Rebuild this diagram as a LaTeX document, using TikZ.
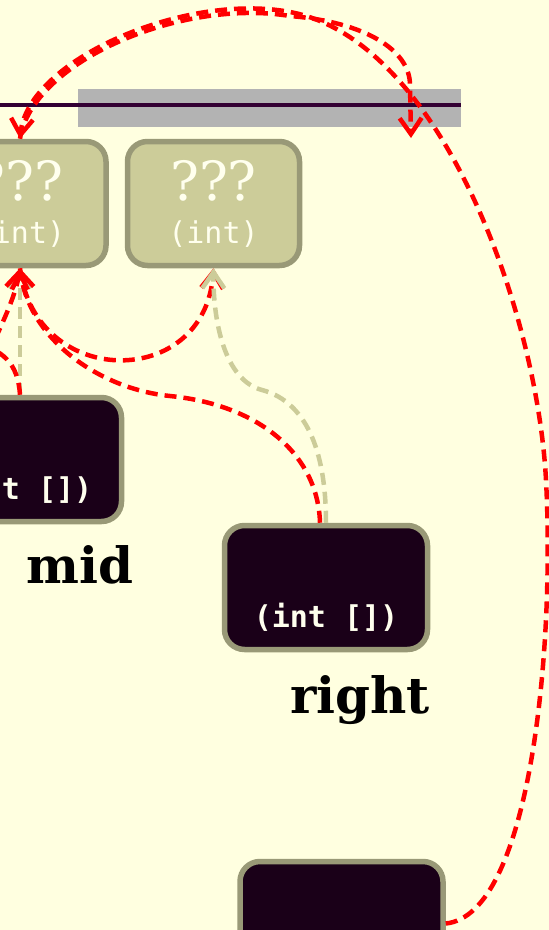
\documentclass[tikz,border=0pt]{standalone}
\usepackage{fontspec}
\setmainfont{DejaVu Serif}
\setmonofont{DejaVu Sans Mono}
\usetikzlibrary{arrows.meta,positioning}

\definecolor{paper}{HTML}{FFFFE0}
\definecolor{cellfill}{HTML}{CCCC99}
\definecolor{celledge}{HTML}{999977}
\definecolor{arrfill}{HTML}{1A0018}
\definecolor{valtext}{HTML}{FFFFEE}
\definecolor{barcol}{HTML}{B3B3B3}
\definecolor{rulecol}{HTML}{330033}

\begin{document}
\begin{tikzpicture}[
    x=1pt, y=-1pt,
    cell/.style={
        draw=celledge,
        fill=cellfill,
        line width=5.5pt,
        rounded corners=20pt,
        align=center,
        text=valtext,
        font=\fontsize{30}{43}\selectfont\ttfamily,
        inner sep=0pt,
        minimum width=172pt,
        minimum height=124pt
    },
    arrcell/.style={cell, fill=arrfill, minimum width=203pt, font=\fontsize{30}{43}\selectfont\ttfamily\bfseries},
    varname/.style={font=\fontsize{50}{60}\selectfont\bfseries, anchor=base},
    pointer/.style={-{Straight Barb[length=16pt, width=22pt]}, line width=4.5pt, draw=red, dash pattern=on 12pt off 7pt},
    typelink/.style={pointer, draw=cellfill}
]

\useasboundingbox (0,0) rectangle (549,930);
\fill[paper] (0,0) rectangle (549,930);
\clip (0,0) rectangle (549,930);

\fill[barcol] (78,89) rectangle (461,127);
\draw[rulecol, line width=4pt] (-20,105) -- (461,105);
\coordinate (slot) at (411,138);
\coordinate (offin) at (-30,390);
\coordinate (offout) at (-40,340);

\node[cell] (val0) at (20,203.5) {{\rmfamily\fontsize{54}{43}\selectfont ???}\\(int)};
\node[cell] (val1) at (213.5,203.5) {{\rmfamily\fontsize{54}{43}\selectfont ???}\\(int)};

\node[arrcell] (midarr) at (20,459.5) {{\rmfamily\fontsize{54}{43}\selectfont\vphantom{???}}\\(int [])};
\node[arrcell] (rightarr) at (326,587.5) {{\rmfamily\fontsize{54}{43}\selectfont\vphantom{???}}\\(int [])};
\node[arrcell] (botarr) at (341.5,923.5) {};

\node[varname] (midname) at (80,583) {mid};
\node[varname] (rightname) at (360,713) {right};

\draw[typelink] (midarr.north) -- (val0.south);
\draw[pointer] (midarr.north) .. controls (18,365) and (5,348) .. (offout);
\draw[pointer] (offin) .. controls (-5,340) and (15,300) .. (val0.south);
\draw[pointer] (val0.south) .. controls (35,390) and (205,390) .. (val1.south);
\draw[pointer] ([xshift=-6pt]rightarr.north) .. controls (318,455) and (260,405) .. (170,396)
    .. controls (100,389) and (30,340) .. (val0.south);
\draw[typelink] (rightarr.north) .. controls (326,440) and (300,400) .. (262,390)
    .. controls (224,380) and (213,320) .. (val1.south);
\draw[pointer] (val0.north) .. controls (32,62) and (180,-2) .. (290,16)
    .. controls (365,22) and (410,50) .. (410,85) -- (slot);
\draw[pointer] (botarr.east) .. controls (530,915) and (555,650) .. (546,480)
    .. controls (537,310) and (440,40) .. (290,12)
    .. controls (185,-8) and (28,60) .. (val0.north);

\end{tikzpicture}
\end{document}
